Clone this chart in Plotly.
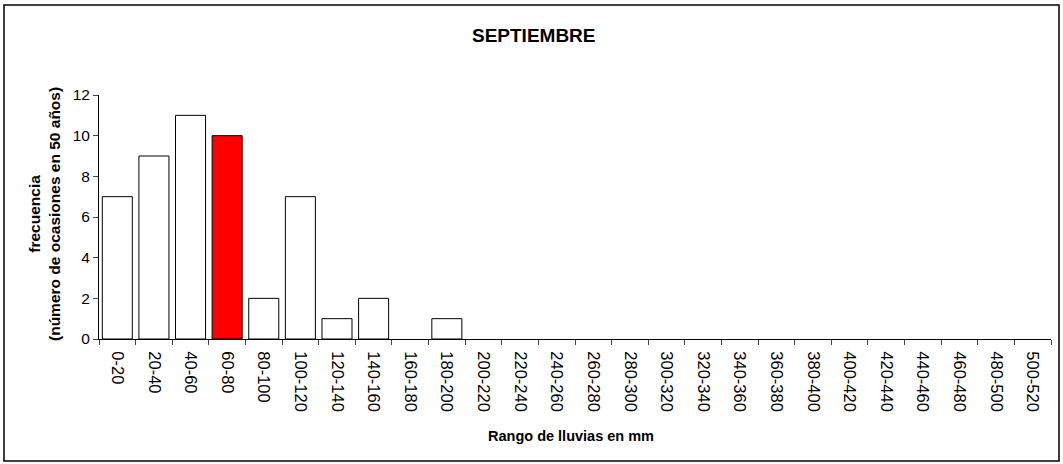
import plotly.graph_objects as go

categories = ["0-20", "20-40", "40-60", "60-80", "80-100", "100-120", "120-140", "140-160",
              "160-180", "180-200", "200-220", "220-240", "240-260", "260-280", "280-300",
              "300-320", "320-340", "340-360", "360-380", "380-400", "400-420", "420-440",
              "440-460", "460-480", "480-500", "500-520"]
frequencies = [7, 9, 11, 10, 2, 7, 1, 2, 0, 1, 0, 0, 0, 0, 0, 0, 0, 0, 0, 0, 0, 0, 0, 0, 0, 0]
highlight = "60-80"

colors = ["#ff0000" if c == highlight else "#ffffff" for c in categories]
line_widths = [1 if v > 0 else 0 for v in frequencies]

W, H = 1063, 464
L, R, T, B = 99, 12, 95, 125

fig = go.Figure(go.Bar(
    x=categories, y=frequencies,
    marker=dict(color=colors, line=dict(color="#000000", width=line_widths)),
))

font = "Liberation Sans, Arial, sans-serif"
fig.update_layout(
    width=W, height=H,
    margin=dict(l=L, r=R, t=T, b=B),
    paper_bgcolor="white", plot_bgcolor="white",
    bargap=0.18,
    showlegend=False,
    font=dict(family=font, size=12, color="black"),
)
fig.update_xaxes(
    type="category", tickangle=90, ticks="outside", ticklen=5, tickson="boundaries",
    ticklabelstandoff=8,
    showline=True, linecolor="black", linewidth=1, showgrid=False,
    tickfont=dict(size=16.5, family=font),
)
fig.update_yaxes(
    range=[0, 12], dtick=2, ticks="outside", ticklen=5,
    showline=True, linecolor="black", linewidth=1, showgrid=False, zeroline=False,
    tickfont=dict(size=15.5, family=font),
)

pw = W - L - R
ph = H - T - B
def px(x):
    return (x - L) / pw
def py(y):
    return (H - B - y) / ph

fig.add_annotation(text="<b>SEPTIEMBRE</b>", x=px(534), y=py(36), xref="paper", yref="paper",
                   xanchor="center", yanchor="middle",
                   showarrow=False, font=dict(size=19, family=font))
fig.add_annotation(text="<b>Rango de lluvias en mm</b>", x=px(571), y=py(436), xref="paper", yref="paper",
                   xanchor="center", yanchor="middle",
                   showarrow=False, font=dict(size=14.5, family=font))
fig.add_annotation(text="<b>frecuencia<br>(número de ocasiones en 50 años)</b>", x=px(44), y=py(214),
                   xref="paper", yref="paper", xanchor="center", yanchor="middle",
                   showarrow=False, textangle=-90,
                   font=dict(size=15.5, family=font))
fig.add_shape(type="rect", xref="paper", yref="paper",
              x0=px(4), x1=px(1059), y0=py(461), y1=py(5),
              line=dict(color="black", width=1.5), fillcolor="rgba(0,0,0,0)")

fig.write_html("out.html", config={"displayModeBar": False},
               post_script="document.body.style.margin='0';")
